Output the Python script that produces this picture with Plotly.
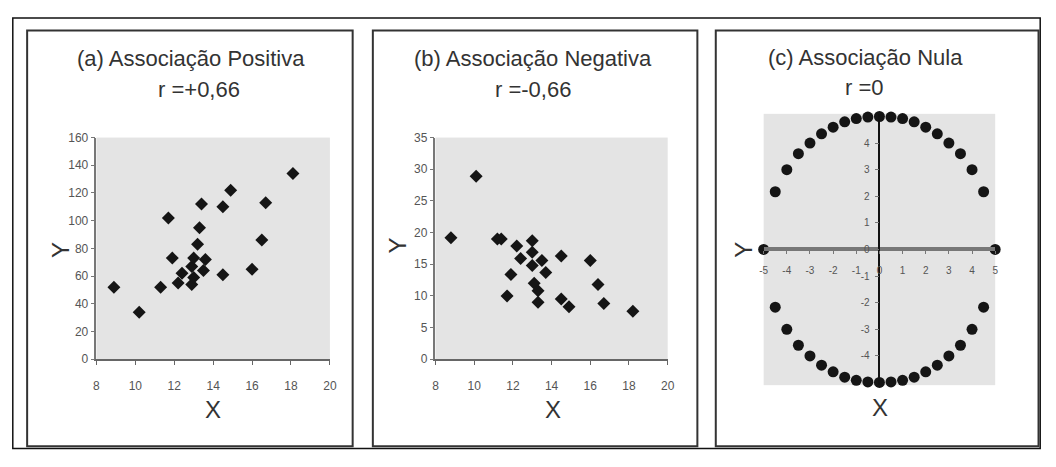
import plotly.graph_objects as go

# ---------------- data ----------------
pos_x = [8.9, 10.2, 11.3, 11.7, 11.9, 12.2, 12.4, 12.9, 13.0, 12.9, 13.0, 13.2, 13.3, 13.4,
         13.5, 13.6, 14.5, 14.5, 14.9, 16.0, 16.5, 16.7, 18.1]
pos_y = [52, 34, 52, 102, 73, 55, 62, 54, 59, 67, 73, 83, 95, 112,
         64, 72, 61, 110, 122, 65, 86, 113, 134]

neg_x = [8.8, 10.1, 11.2, 11.4, 12.2, 11.9, 11.7, 12.4, 13.0, 13.0, 13.0, 13.5, 13.1, 13.3,
         13.3, 13.7, 14.5, 14.5, 14.9, 16.0, 16.4, 16.7, 18.2]
neg_y = [19.2, 28.9, 19.0, 19.0, 17.9, 13.4, 10.0, 15.9, 18.7, 16.9, 14.8, 15.6, 12.0, 10.8,
         9.0, 13.7, 16.3, 9.5, 8.3, 15.6, 11.8, 8.8, 7.6]

null_upper_x = [-5, -4.5, -4.0, -3.5, -3.0, -2.5, -2.0, -1.5, -1.0, -0.5, 0,
                0.5, 1.0, 1.5, 2.0, 2.5, 3.0, 3.5, 4.0, 4.5, 5]
null_upper_y = [0, 2.17, 3.0, 3.6, 4.0, 4.35, 4.6, 4.8, 4.92, 4.98, 5.0,
                4.98, 4.92, 4.8, 4.6, 4.35, 4.0, 3.6, 3.0, 2.17, 0]
null_lower_x = [-4.5, -4.0, -3.5, -3.0, -2.5, -2.0, -1.5, -1.0, -0.5, 0,
                0.5, 1.0, 1.5, 2.0, 2.5, 3.0, 3.5, 4.0, 4.5]
null_lower_y = [-2.17, -3.0, -3.6, -4.0, -4.35, -4.6, -4.8, -4.92, -4.98, -5.0,
                -4.98, -4.92, -4.8, -4.6, -4.35, -4.0, -3.6, -3.0, -2.17]

titles = ["(a) Associação Positiva", "(b) Associação Negativa", "(c) Associação Nula"]
r_labels = ["r =+0,66", "r =-0,66", "r =0"]

pos_yticks = [0, 20, 40, 60, 80, 100, 120, 140, 160]
neg_yticks = [0, 5, 10, 15, 20, 25, 30, 35]
ab_xticks = [8, 10, 12, 14, 16, 18, 20]
null_xticks = [-5, -4, -3, -2, -1, 0, 1, 2, 3, 4, 5]
null_xticklabels = ["-5", "-4", "-3", "-2", "-1", "0", "1", "2", "3", "4", "5"]
null_yticks = [-4, -3, -2, -1, 0, 1, 2, 3, 4]
null_yticklabels = ["-4", "-3", "-2", "-1", "0", "1", "2", "3", "4"]

# ---------------- layout helpers ----------------
# The page body keeps its default 8px margin, so the figure is 16px smaller than the window
OFF = 8
W, H = 1056 - 2 * OFF, 467 - 2 * OFF
def fx(px):
    return (px - OFF) / W
def fy(py):
    return 1 - (py - OFF) / H

FONT = "Liberation Sans, Arial, sans-serif"
TICKC = "#555555"
DOT = "#151515"

fig = go.Figure()

fig.add_trace(go.Scatter(x=pos_x, y=pos_y, mode="markers", xaxis="x", yaxis="y",
                         marker=dict(symbol="diamond", size=10, color=DOT), cliponaxis=False,
                         showlegend=False))
fig.add_trace(go.Scatter(x=neg_x, y=neg_y, mode="markers", xaxis="x2", yaxis="y2",
                         marker=dict(symbol="diamond", size=10, color=DOT), cliponaxis=False,
                         showlegend=False))
fig.add_trace(go.Scatter(x=null_upper_x + null_lower_x, y=null_upper_y + null_lower_y,
                         mode="markers", xaxis="x3", yaxis="y3",
                         marker=dict(symbol="circle", size=11, color=DOT), cliponaxis=False,
                         showlegend=False))

common_x = dict(showgrid=False, zeroline=False, showline=True, linecolor="#666666",
                linewidth=2, ticks="outside", ticklen=4, tickcolor="#666666",
                tickfont=dict(family=FONT, size=12, color=TICKC), ticklabelstandoff=10,
                fixedrange=True)
common_y = dict(showgrid=False, zeroline=False, showline=True, linecolor="#777777",
                linewidth=1.5, ticks="outside", ticklen=4, tickcolor="#777777",
                tickfont=dict(family=FONT, size=12, color=TICKC), fixedrange=True)

ydom_ab = [fy(363.3), fy(134.5)]
ydom_c = [fy(390), fy(110)]
xdom_c = [fx(767.7), fx(1001.7)]

fig.update_layout(
    width=W, height=H,
    margin=dict(l=0, r=0, t=0, b=0),
    paper_bgcolor="white",
    plot_bgcolor="#e4e4e4",
    xaxis=dict(domain=[fx(93.3), fx(329.3)], range=[8, 20], tickvals=ab_xticks,
               anchor="y", **common_x),
    yaxis=dict(domain=ydom_ab, range=[0, 160], tickvals=pos_yticks, anchor="x", **common_y),
    xaxis2=dict(domain=[fx(436), fx(670.7)], range=[8, 20], tickvals=ab_xticks,
                anchor="y2", **common_x),
    yaxis2=dict(domain=ydom_ab, range=[0, 35], tickvals=neg_yticks, anchor="x2", **common_y),
    xaxis3=dict(domain=xdom_c, range=[-5, 5], tickvals=null_xticks, ticktext=null_xticklabels,
                anchor="free", position=(ydom_c[0] + ydom_c[1]) / 2,
                showgrid=False, zeroline=False, showline=True, linecolor="#777777",
                linewidth=3.5, ticks="outside", ticklen=3, tickcolor="#777777",
                tickfont=dict(family=FONT, size=10, color=TICKC), ticklabelstandoff=8,
                fixedrange=True),
    yaxis3=dict(domain=ydom_c, range=[-5.1, 5.1], tickvals=null_yticks, ticktext=null_yticklabels,
                anchor="free", position=(xdom_c[0] + xdom_c[1]) / 2,
                showgrid=False, zeroline=False, showline=True, linecolor="#111111",
                linewidth=1.5, ticks="outside", ticklen=4, tickcolor="#777777",
                tickfont=dict(family=FONT, size=10, color=TICKC), ticklabelstandoff=3,
                fixedrange=True),
)

# frames
shapes = []
shapes.append(dict(type="rect", xref="paper", yref="paper",
                   x0=fx(8.8), x1=fx(1047.2), y0=fy(455.5), y1=fy(11),
                   line=dict(color="#111111", width=1.5)))
for (l, r) in [(23.3, 352.3), (372.7, 700.7), (719.3, 1045.5)]:
    shapes.append(dict(type="rect", xref="paper", yref="paper",
                       x0=fx(l), x1=fx(r), y0=fy(453), y1=fy(24),
                       line=dict(color="#333333", width=2)))
fig.update_layout(shapes=shapes)

annotations = []
title_pos = [(189, 53, 197, 85), (535, 53, 535, 85), (871, 52, 870, 83)]
for t, rl, (tx, ty, rx, ry) in zip(titles, r_labels, title_pos):
    annotations.append(dict(text=t, x=fx(tx), y=fy(ty), xref="paper", yref="paper",
                            showarrow=False, xanchor="center", yanchor="middle",
                            font=dict(family=FONT, size=22, color="#333333")))
    annotations.append(dict(text=rl, x=fx(rx), y=fy(ry), xref="paper", yref="paper",
                            showarrow=False, xanchor="center", yanchor="middle",
                            font=dict(family=FONT, size=22, color="#333333")))

# axis titles
for (xx, xy) in [(211, 415), (555, 415), (885, 413)]:
    annotations.append(dict(text="X", x=fx(xx), y=fy(xy), xref="paper", yref="paper",
                            showarrow=False, xanchor="center", yanchor="middle",
                            font=dict(family=FONT, size=24, color="#333333")))
for (yx, yy) in [(57, 250), (398, 246), (747, 250)]:
    annotations.append(dict(text="Y", x=fx(yx), y=fy(yy), xref="paper", yref="paper",
                            showarrow=False, xanchor="center", yanchor="middle", textangle=-90,
                            font=dict(family=FONT, size=24, color="#333333")))
fig.update_layout(annotations=annotations)

fig.write_html("out.html", config={"displayModeBar": False})
